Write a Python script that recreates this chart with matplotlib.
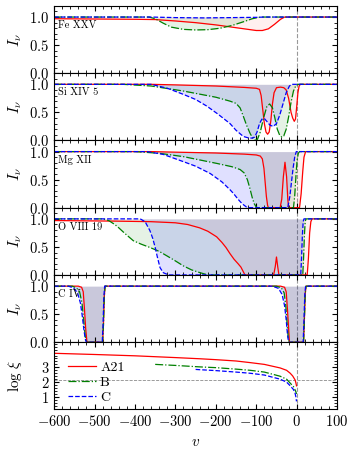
import numpy as np
import matplotlib
matplotlib.use("Agg")
import matplotlib.pyplot as plt
from matplotlib.ticker import MultipleLocator

plt.rcParams['font.family'] = 'serif'
plt.rcParams['font.serif'] = ['cmr10', 'DejaVu Serif']
plt.rcParams['mathtext.fontset'] = 'cm'
plt.rcParams['axes.formatter.use_mathtext'] = True

# ---- data ----
ions = ["Fe XXV", "Si XIV 5", "Mg XII", "O VIII 19", "C IV"]
models = ["A21", "B", "C"]

# Fe XXV
fe_a21_v = [-600, -500, -400, -350, -300, -250, -200, -150, -120, -100, -85, -70, -55, -40, -30, 100]
fe_a21_i = [0.97, 0.965, 0.96, 0.955, 0.93, 0.90, 0.86, 0.81, 0.78, 0.76, 0.76, 0.79, 0.87, 0.96, 1.0, 1.0]
fe_b_v = [-600, -365, -350, -330, -310, -280, -250, -220, -190, -160, -130, -110, -90, 100]
fe_b_i = [1.0, 1.0, 0.97, 0.89, 0.82, 0.78, 0.77, 0.775, 0.8, 0.85, 0.92, 0.97, 1.0, 1.0]
fe_c_v = [-600, -360, -300, -230, -160, -100, -80, 100]
fe_c_i = [1.0, 1.0, 0.99, 0.985, 0.99, 0.995, 1.0, 1.0]

# Si XIV 5
si_a21_v = [-600, -360, -300, -200, -130, -100, -92, -88, -84, -80, -76, -72, -68, -64, -60, -56, -50,
            -40, -32, -26, -20, -14, -10, -6, -3, 0, 3, 6, 9, 100]
si_a21_i = [1.0, 1.0, 0.99, 0.97, 0.945, 0.93, 0.91, 0.8, 0.55, 0.3, 0.15, 0.11, 0.15, 0.35, 0.65, 0.85, 0.94,
            0.95, 0.94, 0.9, 0.75, 0.5, 0.4, 0.34, 0.38, 0.6, 0.85, 0.97, 1.0, 1.0]
si_b_v = [-600, -430, -360, -280, -200, -165, -150, -140, -132, -124, -115, -108, -103, -97, -90, -82, -74,
          -67, -60, -54, -48, -42, -37, -32, -26, -20, -14, -8, -2, 4, 100]
si_b_i = [1.0, 1.0, 0.97, 0.88, 0.77, 0.70, 0.66, 0.58, 0.43, 0.27, 0.12, 0.03, 0.0, 0.02, 0.15, 0.4, 0.6,
          0.65, 0.58, 0.4, 0.2, 0.09, 0.06, 0.08, 0.2, 0.42, 0.68, 0.88, 0.98, 1.0, 1.0]
si_c_v = [-600, -360, -320, -280, -250, -222, -195, -165, -150, -132, -120, -110, -104, -98, -92, -86, -80,
          -74, -66, -58, -50, -42, -34, -26, -18, -12, 100]
si_c_i = [1.0, 1.0, 0.93, 0.82, 0.73, 0.61, 0.47, 0.3, 0.18, 0.07, 0.045, 0.04, 0.06, 0.15, 0.3, 0.38, 0.39,
          0.34, 0.27, 0.25, 0.3, 0.45, 0.65, 0.85, 0.97, 1.0, 1.0]

# Mg XII
mg_a21_v = [-600, -360, -300, -200, -130, -100, -90, -85, -81, -78, -75, -72, -70, -41, -37, -33, -29,
            -25, -22, -20, 7, 11, 15, 18, 22, 100]
mg_a21_i = [1.0, 1.0, 0.99, 0.975, 0.955, 0.94, 0.92, 0.87, 0.7, 0.45, 0.2, 0.04, 0.0, 0.0, 0.15, 0.55, 0.81,
            0.55, 0.15, 0.0, 0.0, 0.25, 0.65, 0.9, 1.0, 1.0]
mg_b_v = [-600, -400, -340, -280, -198, -160, -140, -130, -122, -116, -110, -105, -100, -97, -8, -5, -2,
          1, 4, 7, 100]
mg_b_i = [1.0, 1.0, 0.97, 0.91, 0.79, 0.73, 0.68, 0.62, 0.5, 0.35, 0.18, 0.07, 0.01, 0.0, 0.0, 0.2, 0.55,
          0.85, 0.97, 1.0, 1.0]
mg_c_v = [-600, -370, -330, -280, -250, -214, -185, -165, -156, -145, -135, -124, -120, -22, -17, -13, -9,
          -5, -1, 100]
mg_c_i = [1.0, 1.0, 0.95, 0.82, 0.74, 0.61, 0.46, 0.32, 0.25, 0.15, 0.07, 0.01, 0.0, 0.0, 0.2, 0.45, 0.7,
          0.9, 1.0, 1.0]

# O VIII 19
o_a21_v = [-600, -450, -360, -300, -270, -240, -220, -198, -185, -175, -165, -155, -145, -138, -133, -128,
           -57, -53, -50, -47, -44, 26, 29, 32, 35, 38, 100]
o_a21_i = [0.97, 0.96, 0.95, 0.93, 0.9, 0.84, 0.78, 0.68, 0.58, 0.49, 0.38, 0.28, 0.2, 0.14, 0.07, 0.0,
           0.0, 0.15, 0.32, 0.15, 0.0, 0.0, 0.3, 0.75, 0.95, 1.0, 1.0]
o_b_v = [-600, -480, -465, -450, -440, -425, -404, -385, -363, -340, -321, -300, -280, -260, -239, -222,
         -215, 15, 17, 19, 21, 23, 100]
o_b_i = [1.0, 1.0, 0.97, 0.9, 0.84, 0.74, 0.61, 0.55, 0.49, 0.42, 0.34, 0.25, 0.16, 0.09, 0.04, 0.005,
         0.0, 0.0, 0.3, 0.7, 0.95, 1.0, 1.0]
o_c_v = [-600, -387, -375, -363, -356, -350, -344, -338, -330, -317, 10, 12, 14, 16, 18, 100]
o_c_i = [1.0, 1.0, 0.95, 0.79, 0.65, 0.49, 0.3, 0.13, 0.04, 0.0, 0.0, 0.3, 0.7, 0.95, 1.0, 1.0]

# C IV
c_a21_v = [-600, -540, -532, -528, -525, -522, -519, -518, -480, -478, -476, -474, -40, -30, -26, -23,
           -20, -18, 17, 19, 21, 23, 100]
c_a21_i = [1.0, 1.0, 0.98, 0.9, 0.6, 0.25, 0.02, 0.0, 0.0, 0.3, 0.8, 1.0, 1.0, 0.98, 0.9, 0.6,
           0.25, 0.0, 0.0, 0.4, 0.85, 1.0, 1.0]
c_b_v = [-600, -555, -545, -537, -531, -527, -523, -520, -480, -478, -476, -474, -50, -38, -31, -27,
         -24, -21, -19, 17, 19, 21, 23, 100]
c_b_i = [1.0, 1.0, 0.97, 0.9, 0.7, 0.4, 0.1, 0.0, 0.0, 0.3, 0.8, 1.0, 1.0, 0.97, 0.88, 0.65,
         0.35, 0.08, 0.0, 0.0, 0.4, 0.85, 1.0, 1.0]
c_c_v = [-600, -565, -552, -542, -535, -530, -526, -522, -520, -481, -479, -477, -475, -60, -45, -36,
         -30, -26, -23, -20, 16, 18, 20, 22, 100]
c_c_i = [1.0, 1.0, 0.97, 0.88, 0.7, 0.45, 0.2, 0.03, 0.0, 0.0, 0.3, 0.8, 1.0, 1.0, 0.96, 0.85,
         0.65, 0.4, 0.15, 0.0, 0.0, 0.4, 0.85, 1.0, 1.0]

# log xi along the flow
xi_a21_v = [-600, -500, -400, -300, -239, -200, -150, -115, -80, -41, -25, -16, -10, -4, -2, -0.5]
xi_a21 = [3.95, 3.87, 3.78, 3.66, 3.58, 3.52, 3.43, 3.32, 3.2, 2.96, 2.8, 2.6, 2.42, 2.15, 1.95, 1.75]
xi_b_v = [-350, -300, -239, -200, -150, -115, -80, -41, -25, -16, -8, -4, -2, -0.5]
xi_b = [3.2, 3.13, 3.03, 2.98, 2.88, 2.8, 2.68, 2.4, 2.2, 1.93, 1.7, 1.47, 1.35, 1.2]
xi_c_v = [-250, -239, -200, -150, -115, -80, -41, -25, -16, -8, -4, -2, -0.5]
xi_c = [2.86, 2.84, 2.78, 2.68, 2.6, 2.48, 2.2, 2.0, 1.75, 1.5, 1.25, 1.0, 0.7]
xi_ref = 2.15

profiles = [
    [(fe_a21_v, fe_a21_i), (fe_b_v, fe_b_i), (fe_c_v, fe_c_i)],
    [(si_a21_v, si_a21_i), (si_b_v, si_b_i), (si_c_v, si_c_i)],
    [(mg_a21_v, mg_a21_i), (mg_b_v, mg_b_i), (mg_c_v, mg_c_i)],
    [(o_a21_v, o_a21_i), (o_b_v, o_b_i), (o_c_v, o_c_i)],
    [(c_a21_v, c_a21_i), (c_b_v, c_b_i), (c_c_v, c_c_i)],
]

colors = ['red', 'green', 'blue']
styles = ['-', '-.', '--']
fill_alpha = [0.06, 0.1, 0.12]


def style_axis(ax):
    ax.tick_params(which='both', direction='in', top=True, right=True, labelsize=10.5)
    ax.tick_params(which='major', length=3.6, width=0.8)
    ax.tick_params(which='minor', length=2.0, width=0.6)
    ax.xaxis.set_major_locator(MultipleLocator(100))
    ax.xaxis.set_minor_locator(MultipleLocator(20))
    ax.axvline(0, color='0.6', ls='--', lw=0.8, zorder=0)


fig, axes = plt.subplots(6, 1, figsize=(3.56, 4.49), dpi=100, sharex=True)
fig.subplots_adjust(left=0.152, right=0.947, top=0.987, bottom=0.088, hspace=0)

for k, ax in enumerate(axes[:5]):
    for (v, I), c, ls, al in zip(profiles[k], colors, styles, fill_alpha):
        ax.fill_between(v, I, 1.0, color=c, alpha=al, lw=0)
        ax.plot(v, I, color=c, ls=ls, lw=0.9)
    ax.set_ylim(0, 1.2)
    ax.set_yticks([0.0, 0.5, 1.0])
    ax.yaxis.set_minor_locator(MultipleLocator(0.1))
    ax.set_ylabel(r'$I_\nu$', fontsize=11)
    ax.text(0.012, 0.71, ions[k], transform=ax.transAxes, fontsize=7.5, va='center', ha='left')
    style_axis(ax)

ax = axes[5]
ax.plot(xi_a21_v, xi_a21, color='red', ls='-', lw=0.9, label=models[0])
ax.plot(xi_b_v, xi_b, color='green', ls='-.', lw=0.9, label=models[1])
ax.plot(xi_c_v, xi_c, color='blue', ls='--', lw=0.9, label=models[2])
ax.axhline(xi_ref, color='0.55', ls='--', lw=0.6, zorder=0)
ax.set_ylim(0.15, 4.7)
ax.set_yticks([1, 2, 3])
ax.yaxis.set_minor_locator(MultipleLocator(0.2))
ax.set_ylabel(r'$\log\,\xi$', fontsize=11)
style_axis(ax)
ax.set_xlabel(r'$v$', fontsize=11)
ax.legend(loc='center left', bbox_to_anchor=(0.02, 0.4), frameon=False, fontsize=10,
          handlelength=2.0, handletextpad=0.3, labelspacing=0.15, borderaxespad=0.2)

for a in axes:
    a.set_xlim(-600, 100)

fig.align_ylabels(axes)
fig.savefig('out.png', dpi=100)
